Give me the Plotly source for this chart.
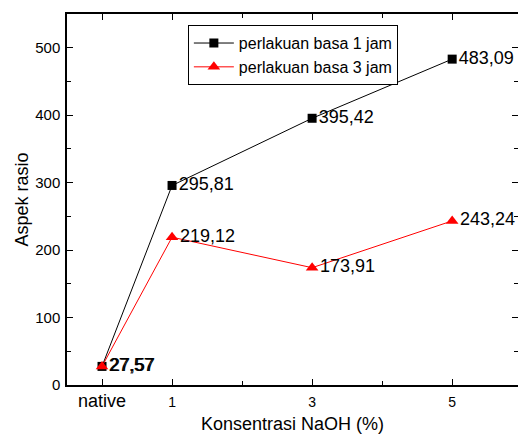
import plotly.graph_objects as go

x_pos = [0, 1, 3, 5]
tick_labels = ["native", "1", "3", "5"]
series_names = ["perlakuan basa 1 jam", "perlakuan basa 3 jam"]
basa_1_jam = [27.57, 295.81, 395.42, 483.09]
basa_3_jam = [27.57, 219.12, 173.91, 243.24]


def fmt(v):
    return f"{v:.2f}".replace(".", ",")


FONT = "Liberation Sans, Arial, sans-serif"

fig = go.Figure()
fig.add_trace(go.Scatter(
    x=x_pos, y=basa_1_jam, name=series_names[0],
    mode="lines+markers+text",
    line=dict(color="black", width=1),
    marker=dict(symbol="square", size=9, color="black"),
    text=[fmt(v) for v in basa_1_jam], textposition="middle right",
    textfont=dict(family=FONT, size=18, color="black"),
    cliponaxis=False,
))
fig.add_trace(go.Scatter(
    x=x_pos, y=basa_3_jam, name=series_names[1],
    mode="lines+markers+text",
    line=dict(color="#ff0000", width=1),
    marker=dict(symbol="triangle-up", size=11, color="#ff0000"),
    text=[fmt(v) for v in basa_3_jam], textposition="middle right",
    textfont=dict(family=FONT, size=18, color="black"),
    cliponaxis=False,
))

ticktext = ["<span style='font-size:18px'>native</span>" if t == "native" else t for t in tick_labels]

fig.update_layout(
    width=518, height=434,
    margin=dict(l=67, r=0, t=14, b=49),
    paper_bgcolor="white", plot_bgcolor="white",
    font=dict(family=FONT, color="black"),
    showlegend=True,
    legend=dict(
        x=0.268, y=0.97, xanchor="left", yanchor="top",
        bordercolor="black", borderwidth=1, bgcolor="white",
        font=dict(family=FONT, size=16, color="black"),
        itemwidth=40, tracegroupgap=0,
    ),
    xaxis=dict(
        range=[-0.5, 5.94], automargin=False,
        tickmode="array", tickvals=x_pos, ticktext=ticktext,
        tickfont=dict(family=FONT, size=14, color="black"),
        ticks="inside", ticklen=6, tickwidth=1, tickcolor="black",
        minor=dict(tickvals=[2, 4], ticks="inside", ticklen=4, tickcolor="black"),
        showline=True, linecolor="black", linewidth=1.5, mirror="ticks",
        showgrid=False, zeroline=False,
        ticklabelstandoff=3,
        title=dict(text="Konsentrasi NaOH (%)", font=dict(family=FONT, size=18, color="black"), standoff=12),
    ),
    yaxis=dict(
        range=[0, 550], automargin=False,
        tickmode="linear", tick0=0, dtick=100,
        tickfont=dict(family=FONT, size=15, color="black"),
        ticks="inside", ticklen=6, tickwidth=1, tickcolor="black",
        minor=dict(tick0=50, dtick=100, ticks="inside", ticklen=4, tickcolor="black"),
        showline=True, linecolor="black", linewidth=1.5, mirror="ticks",
        showgrid=False, zeroline=False,
        ticklabelstandoff=2,
        title=dict(text="Aspek rasio", font=dict(family=FONT, size=18, color="black"), standoff=2),
    ),
)

fig.write_html(
    "out.html",
    config={"displayModeBar": False},
    post_script="document.body.style.margin='0';document.body.style.overflow='hidden';",
)
